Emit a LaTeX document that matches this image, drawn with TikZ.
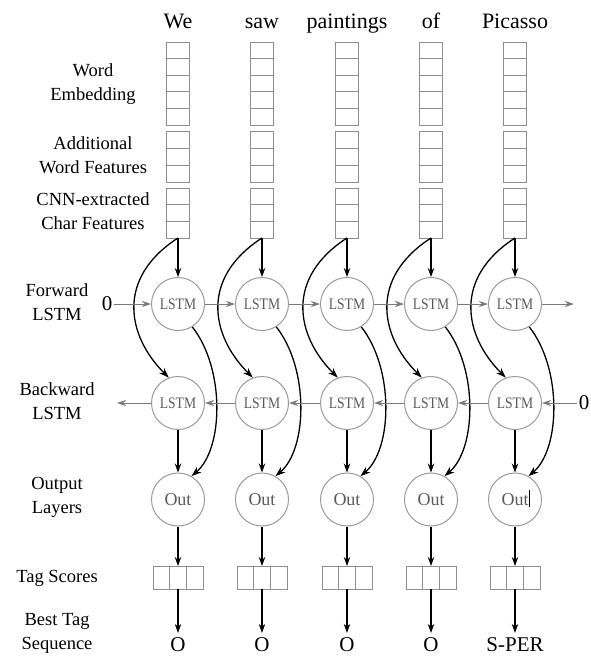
\documentclass[tikz,border=0pt]{standalone}
\usepackage{fontspec}
\setmainfont{Liberation Serif}
\usetikzlibrary{arrows.meta}
\definecolor{boxgray}{HTML}{8E8E8E}
\definecolor{circgray}{HTML}{9A9A9A}
\definecolor{txtgray}{HTML}{5A5A5A}
\definecolor{arrgray}{HTML}{7A7A7A}
\begin{document}
\begin{tikzpicture}[x=1pt,y=-1pt,
  cell/.style={draw=boxgray, line width=0.9pt, minimum width=23pt, minimum height=#1, inner sep=0pt, outer sep=0pt},
  tcell/.style={draw=boxgray, line width=0.9pt, minimum width=16.7pt, minimum height=23pt, inner sep=0pt, outer sep=0pt},
  word/.style={font=\fontsize{22}{26}\selectfont, inner sep=0pt},
  lbl/.style={font=\fontsize{18.5}{24}\selectfont, align=center, inner sep=0pt},
  tagtxt/.style={font=\fontsize{21}{25}\selectfont, inner sep=4pt},
  circ/.style={circle, draw=circgray, line width=1pt, minimum size=53pt, inner sep=0pt, text=txtgray},
  lstm/.style={circ, font=\fontsize{16}{18}\selectfont},
  outc/.style={circ, font=\fontsize{18}{20}\selectfont},
  varrow/.style={line width=1.1pt, -{Stealth[length=9pt,width=6.5pt]}},
  curvearrow/.style={line width=1.3pt, -{Stealth[length=10pt,width=7pt]}},
  harrow/.style={draw=arrgray, line width=1pt, -{Stealth[length=9pt,width=6pt]}, arrgray},
  zero/.style={font=\fontsize{21}{25}\selectfont, inner sep=2pt}
]
\useasboundingbox (0,0) rectangle (591,656);

% row labels
\node[lbl] (l1) at (93,84) {Word\\Embedding};
\node[lbl] (l2) at (93,155) {Additional\\Word Features};
\node[lbl] (l3) at (93,211) {CNN-extracted\\Char Features};
\node[lbl] (l4) at (57,302) {Forward\\LSTM};
\node[lbl] (l5) at (57,401) {Backward\\LSTM};
\node[lbl] (l6) at (57,497) {Output\\Layers};
\node[lbl] (l7) at (57,578) {Tag Scores};
\node[lbl] (l8) at (57,633) {Best Tag\\Sequence};

\foreach \x/\w/\t [count=\i] in {178/We/O,262/saw/O,347/paintings/O,431/of/O,515/Picasso/S-PER}{
  \node[word, anchor=base] (w\i) at (\x,28) {\w};
  \foreach \k in {0,...,4} \node[cell=16.6pt] (e\i-\k) at (\x,{50.3+16.6*\k}) {};
  \foreach \k in {0,1,2} \node[cell=17pt] (a\i-\k) at (\x,{139.5+17*\k}) {};
  \foreach \k in {0,1,2} \node[cell=16.67pt] (c\i-\k) at (\x,{196.3+16.67*\k}) {};
  \node[lstm] (f\i) at (\x,304) {\scalebox{0.85}[1]{LSTM}};
  \node[lstm] (b\i) at (\x,403) {\scalebox{0.85}[1]{LSTM}};
  \node[outc] (o\i) at (\x,499.5) {Out};
  \node[tcell] (t\i-0) at (\x-16.7,577.5) {};
  \node[tcell] (t\i-1) at (\x,577.5) {};
  \node[tcell] (t\i-2) at (\x+16.7,577.5) {};
  \node[tagtxt, anchor=base] (g\i) at (\x,651) {\t};
  \draw[varrow] (c\i-2.south) -- (f\i.north);
  \draw[varrow] (b\i.south) -- (o\i.north);
  \draw[varrow] (o\i.south) -- (t\i-1.north);
  \draw[varrow] (t\i-1.south) -- (g\i.north);
  \draw[curvearrow] (c\i-2.south) .. controls +(-62,40) and +(-42,-42) .. (b\i.110);
  \draw[curvearrow] (f\i.-58) .. controls +(33,42) and +(32,-27) .. (o\i.60);
}

% recurrent connections
\node[zero] (z1) at (107,304) {0};
\node[zero] (z2) at (584,403) {0};
\coordinate (fend) at (574,304);
\coordinate (bend) at (117,403);
\draw[harrow] (z1) -- (f1);
\foreach \i/\j in {1/2,2/3,3/4,4/5} {
  \draw[harrow] (f\i) -- (f\j);
  \draw[harrow] (b\j) -- (b\i);
}
\draw[harrow] (f5) -- (fend);
\draw[harrow] (z2) -- (b5);
\draw[harrow] (b1) -- (bend);

% stray text cursor
\draw[line width=0.8pt] ([xshift=14pt,yshift=9.5pt]o5.center) -- ([xshift=14pt,yshift=-7.5pt]o5.center);
\end{tikzpicture}
\end{document}
